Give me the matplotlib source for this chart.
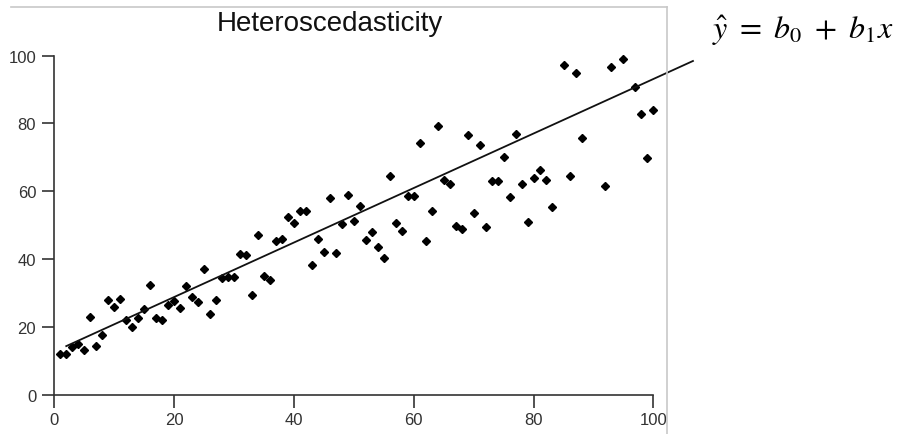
import numpy as np
from matplotlib import pyplot as plt
from matplotlib.lines import Line2D

# points
x_vals = [1, 2, 3, 4, 5, 6, 7, 8, 9, 10, 11, 12, 13, 14, 15, 16, 17, 18, 19, 20,
          21, 22, 23, 24, 25, 26, 27, 28, 29, 30, 31, 32, 33, 34, 35, 36, 37, 38, 39, 40,
          41, 42, 43, 44, 45, 46, 47, 48, 49, 50, 51, 52, 53, 54, 55, 56, 57, 58, 59, 60,
          61, 62, 63, 64, 65, 66, 67, 68, 69, 70, 71, 72, 73, 74, 75, 76, 77, 78, 79, 80,
          81, 82, 83, 85, 86, 87, 88, 92, 93, 95, 97, 98, 99, 100]
y_vals = [12.0, 12.0, 14.1, 15.0, 13.3, 22.9, 14.4, 17.6, 27.9, 25.9, 28.3, 22.0, 19.9, 22.6, 25.3, 32.5, 22.7, 22.1, 26.6, 27.6,
          25.5, 32.0, 28.8, 27.3, 37.1, 23.9, 28.1, 34.6, 34.7, 34.7, 41.4, 41.2, 29.5, 47.1, 35.0, 33.8, 45.3, 46.1, 52.3, 50.6,
          54.1, 54.1, 38.4, 46.0, 42.2, 58.1, 41.9, 50.4, 58.9, 51.4, 55.8, 45.7, 48.1, 43.5, 40.5, 64.4, 50.6, 48.4, 58.5, 58.5,
          74.2, 45.3, 54.3, 79.3, 63.3, 62.1, 49.8, 48.8, 76.6, 53.6, 73.7, 49.5, 63.1, 63.1, 70.0, 58.2, 76.9, 62.1, 51.0, 63.9,
          66.4, 63.3, 55.3, 97.3, 64.4, 95.0, 75.7, 61.5, 96.6, 99.0, 90.7, 82.8, 69.9, 83.9]

# fitted line as drawn in the reference
b0 = 12.8
b1 = 0.803
line_x = [2.0, 106.6]

ticks = [0, 20, 40, 60, 80, 100]

plt.rcParams['font.family'] = ['Liberation Sans', 'DejaVu Sans']
plt.rcParams['mathtext.fontset'] = 'stix'

fig = plt.figure(figsize=(8.98, 4.35), dpi=100)
ax = fig.add_axes([0.0471, 0.0662, 0.7339, 0.8428])
ax.set_xlim(-2, 108)
ax.set_ylim(-3, 105)
ax.patch.set_alpha(0)

ax.plot(x_vals, y_vals, 'D', color='black', ms=3.6, mec='black', clip_on=False)
lx = np.array(line_x)
ax.plot(lx, b0 + b1 * lx, color='#111111', lw=1.3, clip_on=False)

for side in ('top', 'right'):
    ax.spines[side].set_visible(False)
for side in ('left', 'bottom'):
    ax.spines[side].set_position(('data', 0))
    ax.spines[side].set_bounds(0, 100)
    ax.spines[side].set_color('#333333')
    ax.spines[side].set_linewidth(1.2)

ax.set_xticks(ticks)
ax.set_yticks(ticks)
ax.tick_params(axis='both', direction='out', length=9, width=1.2,
               color='#333333', labelcolor='#333333', labelsize=12)
ax.tick_params(axis='y', pad=4)
ax.tick_params(axis='x', pad=3)

# light grey border of the original screenshot
fig.add_artist(Line2D([11 / 898, 667 / 898], [1 - 8.3 / 435, 1 - 8.3 / 435],
                      color='#c8c8c8', lw=1.2))
fig.add_artist(Line2D([667 / 898, 667 / 898], [0, 1 - 8.3 / 435],
                      color='#c8c8c8', lw=1.2))

fig.text(330 / 898, 1 - 31 / 435, 'Heteroscedasticity', ha='center', va='baseline',
         fontsize=20, color='#111111')

fig.text(803 / 898, 1 - 39 / 435, r'$\hat{y}\ =\ b_0\ +\ b_1 x$', ha='center',
         va='baseline', fontsize=23, color='black')

fig.savefig('out.png', dpi=100)
